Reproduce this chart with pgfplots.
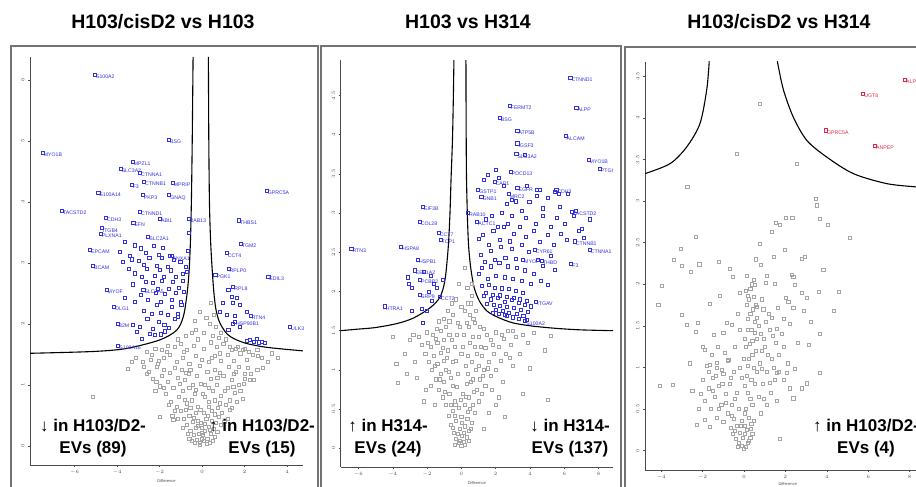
\documentclass[border=0pt]{standalone}
\usepackage{fontspec}
\setmainfont{Liberation Sans}
\usepackage{pgfplots}
\pgfplotsset{compat=1.18}
\definecolor{bluep}{RGB}{50,50,225}
\definecolor{redp}{RGB}{225,40,75}
\definecolor{grayp}{RGB}{165,165,165}
\definecolor{framec}{RGB}{115,115,115}
\pgfplotsset{
  panel/.style={
    scale only axis, anchor=south west,
    axis lines*=left,
    axis line style={gray!60!black, line width=0.5pt},
    tick style={gray!60!black, line width=0.4pt},
    tick align=outside, major tick length=2pt,
    ticklabel style={font=\fontsize{3.5}{4}\selectfont, text=gray!60!black},
    yticklabel style={rotate=90},
    xlabel={Difference},
    xlabel style={font=\fontsize{4}{4}\selectfont, text=gray!60!black, at={(axis description cs:0.5,0)}, anchor=north, yshift=-11pt},
    /pgf/number format/fixed,
  },
  grayp/.style={only marks, mark=square, mark size=1.55pt, draw=grayp, mark options={draw=grayp, line width=0.55pt, fill=none}},
  bluep/.style={only marks, mark=square, mark size=1.55pt, color=bluep, mark options={line width=0.7pt, fill=none}},
  bluel/.style={only marks, mark=square, mark size=1.55pt, color=bluep, mark options={line width=0.7pt, fill=none},
     nodes near coords, point meta=explicit symbolic,
     nodes near coords style={font=\fontsize{5.2}{5.2}\selectfont, text=bluep, anchor=north west, inner sep=0.3pt, xshift=0.5pt, yshift=0.5pt}},
  redl/.style={only marks, mark=square, mark size=1.55pt, color=redp, mark options={line width=0.7pt, fill=none},
     nodes near coords, point meta=explicit symbolic,
     nodes near coords style={font=\fontsize{5.2}{5.2}\selectfont, text=redp, anchor=north west, inner sep=0.3pt, xshift=0.5pt, yshift=0.5pt}},
  thr/.style={black, line width=1.1pt, smooth, no marks},
}
\begin{document}
\begin{tikzpicture}
\path[use as bounding box] (0pt,0pt) rectangle (916pt,487pt);
\clip (0pt,0pt) rectangle (916pt,487pt);
% frames
\draw[framec, line width=1.1pt] (11pt,-5pt) -- (11pt,441pt) -- (318pt,441pt) -- (318pt,-5pt);
\draw[framec, line width=1.1pt] (321pt,-5pt) -- (321pt,441pt) -- (621pt,441pt) -- (621pt,-5pt);
\draw[framec, line width=1.1pt] (625pt,-5pt) -- (625pt,440pt) -- (930pt,440pt);
% titles
\node[font=\fontsize{19.5}{22}\selectfont\bfseries] at (163pt,465pt) {H103/cisD2 vs H103};
\node[font=\fontsize{19.5}{22}\selectfont\bfseries] at (468pt,465pt) {H103 vs H314};
\node[font=\fontsize{19.5}{22}\selectfont\bfseries] at (779pt,465pt) {H103/cisD2 vs H314};

% ---------------- Panel 1 ----------------
\begin{axis}[panel, at={(30pt,22pt)}, width=273pt, height=408pt,
  xmin=-8.094, xmax=4.753, ymin=-0.311, ymax=6.377,
  xtick={-6,-4,-2,0,2,4}, ytick={0,1,2,3,4,5,6}]
\addplot[grayp] coordinates {
(-0.1,0.05) (0.1,0.08) (0.0,0.12) (-0.25,0.1) (0.25,0.12) (-0.4,0.18) (0.4,0.2) (-0.15,0.2) (0.15,0.25) (-0.55,0.25)
(0.55,0.28) (-0.3,0.3) (0.3,0.32) (0.0,0.3) (-0.7,0.35) (0.65,0.38) (-0.45,0.4) (0.45,0.42) (-0.2,0.42) (0.2,0.45)
(-0.85,0.45) (0.8,0.48) (-0.6,0.5) (0.05,0.18) (-0.05,0.38) (0.35,0.06) (-0.35,0.06) (0.6,0.15) (-0.6,0.12) (0.1,0.55)
(-0.3,0.55) (0.45,0.58) (-0.75,0.6) (0.75,0.62) (-1.0,0.58) (0.95,0.55)
(-1.2,0.65) (-1.45,0.72) (-1.1,0.8) (-1.7,0.85) (-0.9,0.9) (-1.35,0.95) (-2.0,0.98) (-1.6,1.05) (-0.8,1.08) (-1.15,1.12)
(-1.9,1.15) (-2.3,1.1) (-0.5,0.75) (-0.6,0.95) (-0.35,0.85) (-1.5,1.2) (-2.5,1.22) (-0.95,1.25)
(1.1,0.68) (1.3,0.75) (0.9,0.82) (1.55,0.88) (1.2,0.95) (0.7,1.0) (1.75,1.0) (1.4,1.08) (2.0,1.1) (1.0,1.15)
(2.3,1.18) (1.6,1.22) (0.5,0.9) (0.4,1.1) (0.85,1.2) (2.6,1.25) (0.3,0.72) (1.9,0.78)
(-3.1,1.45) (-2.8,1.38) (-2.4,1.42) (-2.1,1.35) (-1.8,1.45) (-1.5,1.5) (-1.2,1.38) (-0.9,1.45) (-0.6,1.35) (-0.3,1.48)
(0.0,1.42) (0.3,1.38) (0.6,1.48) (0.9,1.4) (1.2,1.5) (1.5,1.4) (1.8,1.52) (2.1,1.42) (2.4,1.5) (2.8,1.45) (3.1,1.38) (3.3,1.52)
(-2.6,1.55) (-2.2,1.6) (-1.9,1.58) (-1.6,1.65) (-1.3,1.62) (-1.0,1.68) (-0.7,1.58) (-0.4,1.65) (-0.2,1.75) (0.1,1.6)
(0.4,1.7) (0.7,1.62) (1.0,1.68) (1.3,1.62) (1.6,1.6) (1.9,1.58) (2.2,1.55) (2.6,1.58)
(-0.3,1.9) (0.1,1.85) (0.35,2.0) (0.5,1.8) (0.65,1.95) (0.8,1.78) (-0.5,1.85) (0.2,2.1) (-0.1,2.2) (0.55,2.15)
(0.4,2.35) (-0.35,2.05) (0.9,1.85) (1.1,1.75)
(-5.14,0.81) (-3.51,1.27) (2.26,1.08) (2.02,1.19) (1.47,0.97) (-1.98,0.48) (-1.35,0.43) (1.32,0.59) (-2.13,1.30) (-2.6,1.19)
(-0.7,0.7) (-0.2,0.65) (0.15,0.8) (0.6,0.75) (-0.45,1.0) (0.15,1.0) (-0.25,1.15) (0.6,1.25) (-1.4,0.5) (1.2,0.45)
(-0.75,1.2) (1.25,1.3) (-1.8,1.25) (2.15,1.28) (-2.2,0.9) (1.8,0.9)
(-0.12,0.02) (0.22,0.03) (-0.48,0.08) (0.52,0.09) (-0.03,0.22) (0.38,0.27) (-0.68,0.2) (0.72,0.24) (-0.22,0.33) (0.12,0.36)
(-0.92,0.3) (0.9,0.35) (-0.38,0.47) (0.28,0.5) (-1.12,0.44) (1.05,0.4) (-0.55,0.62) (0.58,0.52) (-0.08,0.6) (0.33,0.64)
(-1.28,0.58) (1.4,0.62) (-0.82,0.76) (0.82,0.7) (-1.58,0.68) (1.62,0.72) (-0.28,0.92) (0.32,0.96) (-1.03,1.02) (1.08,0.9)
(-1.78,0.95) (1.95,1.02) (-2.15,1.05) (2.45,1.08) (-0.62,1.18) (0.72,1.12) (-1.28,1.28) (1.48,1.18) (-2.02,1.4) (1.72,1.3)
(-2.72,1.3) (2.88,1.28) (-0.12,1.32) (0.45,1.45) (-0.85,1.55) (0.85,1.52) (-1.65,1.55) (1.42,1.58) (-2.38,1.5) (2.62,1.48)
(-3.3,1.38) (3.55,1.45) (-0.55,1.25) (0.02,0.85) (-0.05,1.02) (0.25,1.22) (1.7,1.62) (2.0,1.6) (-1.12,1.75) (-0.75,1.8)
};
\addplot[thr] coordinates {(-8.1,1.52) (-5.1,1.55) (-3.54,1.60) (-1.98,1.74) (-1.19,1.90) (-0.88,2.12) (-0.72,2.45) (-0.62,2.8) (-0.55,3.3) (-0.50,4.0) (-0.46,5.0) (-0.42,6.38)};
\addplot[thr] coordinates {(0.30,6.38) (0.32,5.0) (0.35,4.0) (0.40,3.4) (0.46,3.0) (0.55,2.55) (0.65,2.25) (0.8,2.05) (1.0,1.92) (1.2,1.83) (1.5,1.76) (2.0,1.69) (2.5,1.65) (3.0,1.62) (3.8,1.59) (4.75,1.56)};
\addplot[bluep] coordinates {
(-3.62,3.34) (-3.88,3.19) (-3.41,3.12) (-3.17,3.29) (-2.86,3.24) (-2.63,3.17) (-2.27,3.28) (-2.02,3.14) (-1.83,3.25) (-1.52,3.12)
(-3.74,3.02) (-3.31,3.06) (-2.97,3.04) (-2.72,2.97) (-2.48,3.08) (-2.12,2.96) (-1.87,3.08) (-1.62,2.94) (-1.33,3.05) (-1.02,3.02)
(-3.46,2.91) (-3.14,2.83) (-2.81,2.77) (-2.58,2.91) (-2.21,2.79) (-1.97,2.89) (-1.78,2.77) (-1.47,2.88) (-1.23,2.77) (-0.92,2.82) (-0.77,2.93)
(-3.27,2.65) (-2.63,2.69) (-2.32,2.67) (-2.07,2.58) (-1.88,2.71) (-1.57,2.57) (-1.38,2.69) (-1.07,2.59) (-0.91,2.71) (-0.72,2.86)
(-3.63,2.43) (-3.17,2.37) (-2.87,2.48) (-2.53,2.39) (-2.18,2.51) (-1.92,2.37) (-1.73,2.49) (-1.42,2.39) (-1.24,2.51) (-0.98,2.37) (-0.84,2.53)
(-2.73,2.22) (-2.37,2.17) (-2.12,2.31) (-1.93,2.19) (-1.62,2.15) (-1.43,2.28) (-1.12,2.17) (-0.97,2.31)
(-3.27,1.99) (-2.93,1.95) (-2.57,2.08) (-2.33,1.92) (-2.02,2.03) (-1.77,1.99) (-1.58,1.93) (-1.27,2.08) (-1.13,2.12)
(-2.47,1.84) (-2.23,1.82) (-1.92,1.83) (-1.73,1.88) (-2.83,1.76) (-3.07,1.87) (-0.62,3.5) (-0.66,3.2)
(1.24,2.56) (1.40,2.45) (1.63,2.43) (1.0,2.34) (1.47,2.34) (1.78,2.31) (2.10,2.20) (0.85,2.20) (1.16,2.15) (1.55,2.13)
(1.47,2.01) (1.78,1.95) (1.24,1.90) (2.26,1.74) (2.42,1.71) (2.66,1.70) (2.82,1.71) (2.97,1.69) (2.1,1.72) (2.58,1.76)
};
\addplot[bluel] table[meta=label] {
x y label
-5.04 6.09 S100A2
-1.55 5.02 BSG
-7.50 4.80 MYO1B
-3.26 4.66 MPZL1
-3.83 4.54 SLC3A2
-2.92 4.48 CTNNA1
-3.31 4.28 F3
-2.73 4.33 CTNNB1
-1.38 4.32 MPRIP
-1.54 4.11 GNAQ
-4.88 4.15 S100A14
-2.79 4.11 PKP3
3.04 4.19 GPRC5A
-6.59 3.85 TACSTD2
-2.92 3.84 CTNND1
-1.98 3.73 ABI1
-0.64 3.72 RAB13
1.74 3.70 THBS1
-4.52 3.74 CDH3
-3.23 3.66 EFN
-4.72 3.57 ITGB4
-4.77 3.48 PLXNA1
-2.53 3.43 SLC2A1
-1.43 3.11 ANXA1
1.82 3.31 TGM2
-5.27 3.21 EPCAM
1.16 3.16 CCT4
-5.13 2.95 BCAM
1.25 2.91 RPLP0
0.63 2.80 PGK1
3.12 2.77 EDIL3
1.47 2.61 RPL8
-4.49 2.56 MYOF
-2.76 2.56 SLC7A5
-4.13 2.28 DLG1
-3.98 2.01 B2M
2.29 2.13 RTN4
1.55 2.04 HSP90B1
4.14 1.96 ULK3
-3.94 1.64 S100A16
};
\end{axis}

% ---------------- Panel 2 ----------------
\begin{axis}[panel, at={(340.7pt,20pt)}, width=272.3pt, height=407pt,
  xmin=-7.032, xmax=8.845, ymin=-0.239, ymax=4.953,
  xtick={-6,-4,-2,0,2,4,6,8}, ytick={0,0.5,1,1.5,2,2.5,3,3.5,4,4.5}]
\addplot[grayp] coordinates {
(0,0.03) (-0.15,0.07) (0.15,0.08) (-0.3,0.12) (0.3,0.14) (0.05,0.16) (-0.45,0.2) (0.45,0.22) (-0.1,0.25) (0.2,0.28)
(-0.6,0.3) (0.6,0.32) (-0.3,0.35) (0.35,0.38) (0.0,0.4) (-0.75,0.42) (0.8,0.45) (-0.5,0.48) (0.5,0.5) (-0.15,0.52)
(0.2,0.55) (-0.9,0.55) (1.0,0.6) (-0.4,0.6) (0.45,0.65) (0.1,0.7) (-0.7,0.7) (0.75,0.72) (-0.25,0.78) (0.3,0.82)
(-1.1,0.65) (-1.3,0.75) (-1.0,0.85) (-1.5,0.88) (-1.2,0.95) (-0.9,1.0) (-1.7,1.0) (-1.4,1.08) (-1.0,1.12) (-1.9,1.1)
(-1.6,1.18) (-1.2,1.22) (-2.1,1.2) (-0.8,1.25) (-1.8,1.3) (-1.4,1.35) (-2.3,1.32) (-1.0,1.38) (-0.6,0.9) (-0.5,1.1)
(-0.4,1.3) (-2.5,1.42) (-1.65,1.45) (-1.2,1.5) (-0.7,1.45) (-2.0,1.48)
(1.2,0.7) (1.4,0.8) (1.1,0.88) (1.7,0.92) (1.3,1.0) (2.0,1.0) (1.0,1.05) (1.6,1.1) (2.3,1.12) (1.2,1.18)
(1.9,1.2) (2.6,1.2) (1.4,1.28) (2.2,1.3) (0.8,1.3) (2.9,1.32) (1.7,1.38) (2.5,1.4) (1.0,1.42) (3.2,1.42)
(2.0,1.48) (3.6,1.45) (1.3,1.52) (2.7,1.5) (0.6,1.1) (0.5,1.35) (4.2,1.47) (0.4,0.95) (2.4,0.85) (3.0,1.05)
(0.3,1.6) (0.5,1.7) (0.7,1.65) (0.4,1.85) (0.6,1.95) (0.2,1.75) (0.8,1.6) (-0.2,1.6) (-0.5,1.7) (-0.7,1.62)
(-1.0,1.65) (-1.3,1.62) (-0.3,1.9) (0.0,1.8)
(-3.79,1.08) (-3.69,0.83) (3.98,1.02) (5.05,0.62) (4.86,1.25) (2.53,0.40) (-2.6,0.9) (-3.0,1.38) (3.6,0.7) (-2.2,0.6)
(2.0,0.55) (-4.0,1.42) (5.2,1.44) (1.3,0.25)
(-0.2,0.95) (0.25,1.05) (-0.35,0.55) (0.65,0.88) (0.9,1.2) (-0.85,1.15) (1.5,1.45) (-1.5,1.4) (0.0,1.2) (0.15,1.45)
(-0.1,1.55) (1.8,0.75) (-1.8,0.8)
(-0.08,0.1) (0.22,0.04) (-0.38,0.05) (0.42,0.1) (-0.22,0.18) (0.12,0.2) (-0.52,0.26) (0.55,0.25) (0.02,0.32) (-0.4,0.42)
(0.38,0.46) (-0.62,0.55) (0.65,0.55) (-0.05,0.62) (0.28,0.66) (-0.95,0.72) (0.92,0.75) (-0.48,0.8) (0.55,0.85) (-1.25,0.88)
(1.25,0.92) (-0.75,0.98) (0.82,1.0) (-1.55,1.05) (1.52,1.02) (-0.3,1.12) (0.38,1.18) (-1.08,1.28) (1.15,1.3) (-1.95,1.35)
(1.85,1.32) (-0.55,1.38) (0.68,1.42) (-2.8,1.45) (2.35,1.45) (-1.42,1.52) (1.1,1.55) (-0.88,1.55) (3.0,1.5) (-3.3,1.2)
(2.8,1.15) (-2.7,1.1) (3.4,1.2) (-3.2,0.95) (3.9,1.35) (-2.05,0.75) (2.2,0.65) (1.6,0.45) (-1.55,0.55) (-0.25,1.45)
(0.1,1.3) (0.45,1.55) (0.85,1.75) (0.55,1.85) (-0.55,1.85) (-0.8,1.75) (0.35,2.05) (-0.15,2.1) (0.62,2.1) (0.2,2.3)
};
\addplot[thr] coordinates {(-7.03,1.50) (-6,1.52) (-5,1.54) (-3.77,1.59) (-2.8,1.66) (-1.83,1.79) (-1.24,1.93) (-0.95,2.15) (-0.76,2.57) (-0.66,3.0) (-0.6,3.42) (-0.52,3.9) (-0.47,4.4) (-0.43,4.95)};
\addplot[thr] coordinates {(0.27,4.95) (0.28,4.2) (0.30,3.5) (0.35,3.0) (0.42,2.6) (0.55,2.3) (0.75,2.05) (1.05,1.88) (1.5,1.75) (2.14,1.67) (3,1.6) (4.1,1.56) (5.5,1.53) (7,1.51) (8.85,1.50)};
\addplot[bluep] coordinates {
(-3.1,2.18) (-3.05,2.10) (-2.9,2.05) (-2.2,2.25) (-1.8,2.2) (-1.6,2.1) (-1.4,2.05) (-1.1,2.15) (-2.0,1.75) (-1.7,1.88)
(-2.9,1.75) (-2.3,1.78) (-1.9,2.0) (-2.23,1.6)
(1.22,2.07) (1.43,1.98) (1.58,2.08) (1.83,1.96) (1.97,2.05) (2.24,1.95) (2.37,2.04) (2.63,1.93) (2.78,2.03) (3.04,1.92) (3.17,2.01) (3.43,1.9) (3.57,1.98) (3.83,1.88)
(1.33,1.94) (1.48,1.84) (1.72,1.9) (1.88,1.83) (2.13,1.92) (2.27,1.82) (2.53,1.87) (2.68,1.8) (2.93,1.89) (3.07,1.79) (3.33,1.86) (3.47,1.77) (3.73,1.83) (3.88,1.74) (4.07,1.81)
(1.82,1.73) (2.03,1.77) (2.18,1.71) (2.42,1.75) (2.63,1.69) (2.77,1.73) (3.02,1.67) (3.23,1.71) (3.38,1.65) (3.62,1.69) (3.82,1.64) (2.52,1.7)
(1.03,2.22) (1.22,2.3) (1.53,2.16) (1.72,2.32) (2.03,2.2) (2.22,2.37) (2.53,2.18) (2.72,2.32) (3.03,2.16) (3.22,2.3) (3.53,2.13) (3.72,2.27) (4.03,2.1) (4.22,2.22) (4.63,2.13) (5.03,2.08)
(1.13,2.47) (1.37,2.38) (1.73,2.52) (1.97,2.4) (2.33,2.57) (2.57,2.43) (2.93,2.54) (3.17,2.42) (3.93,2.5) (4.47,2.4) (5.23,2.46) (4.77,2.33) (5.47,2.28)
(1.03,2.67) (1.27,2.72) (1.63,2.6) (1.87,2.77) (2.23,2.66) (2.47,2.82) (2.83,2.64) (3.07,2.74) (3.53,2.6) (3.77,2.7) (4.23,2.77) (4.57,2.63) (5.03,2.72) (5.37,2.6) (5.83,2.74) (6.17,2.66) (6.83,2.77) (7.17,2.68)
(1.43,2.92) (1.77,2.97) (2.13,2.83) (2.37,3.0) (2.73,2.86) (2.97,2.97) (3.43,2.83) (3.77,2.94) (4.33,2.86) (4.77,2.97) (5.23,2.83) (5.57,2.94) (6.03,2.86) (6.57,2.97) (7.03,2.8) (7.47,2.92)
(2.63,3.12) (2.97,3.17) (3.53,3.03) (3.97,3.14) (4.43,3.22) (4.77,3.06) (5.03,3.2) (5.77,3.08) (6.23,3.24) (6.67,3.03) (5.43,3.27) (4.57,3.3)
(1.3,3.42) (2.2,3.45) (2.5,3.35) (2.0,3.55) (3.8,3.35) (4.4,3.3) (5.7,3.25) (1.55,3.49) (3.69,3.74) (3.2,3.15)
};
\addplot[bluel] table[meta=label] {
x y label
6.36 4.73 CTNND1
2.82 4.37 FERMT2
6.71 4.34 ALPP
2.24 4.22 BSG
3.27 4.05 ATP5B
6.08 3.98 ALCAM
3.27 3.89 IGSF3
3.21 3.75 SLC3A2
7.42 3.68 MYO1B
8.07 3.57 PTGI
2.88 3.53 PDCD13
1.94 3.40 CAP1
3.27 3.32 EGFR
0.99 3.30 GSTP1
1.17 3.21 GNB1
2.76 3.24 MRC2
5.54 3.30 CDH3
6.45 3.02 TACSTD2
0.39 3.00 RAB10
0.93 2.89 ACTC1
6.61 2.64 CTNNB1
7.48 2.53 CTNNA1
6.41 2.35 F3
4.28 2.53 CYR61
3.60 2.40 MYOF
4.69 2.39 THBD
4.37 1.87 ITGAV
3.73 1.62 S100A2
-2.24 3.08 EIF3B
-2.43 2.89 COL28
-1.32 2.75 CCT7
-1.21 2.66 TCP1
-6.41 2.54 RTN3
-3.50 2.57 HSPA8
-2.53 2.40 HSPB1
-2.72 2.27 EEF1A2
-2.41 2.15 PCBP2
-2.41 1.96 SRP9
-1.24 1.93 CCT2
-4.47 1.81 HTRA1
};
\end{axis}

% ---------------- Panel 3 ----------------
\begin{axis}[panel, at={(645pt,17pt)}, width=285.3pt, height=408.3pt,
  xmin=-4.783, xmax=9.0, ymin=-0.232, ymax=4.675,
  xtick={-4,-2,0,2,4,6,8}, ytick={0,0.5,1,1.5,2,2.5,3,3.5,4,4.5},
  xlabel style={yshift=2pt}]
\addplot[grayp] coordinates {
(0,0.02) (-0.1,0.06) (0.1,0.05) (-0.25,0.1) (0.2,0.1) (-0.4,0.14) (0.3,0.15) (-0.05,0.15) (-0.55,0.2) (0.4,0.2)
(-0.2,0.22) (0.15,0.25) (-0.65,0.28) (-0.35,0.3) (0.05,0.3) (0.35,0.32) (-0.1,0.36) (-0.5,0.38) (0.25,0.4)
(-1.0,0.35) (-1.3,0.4) (-0.8,0.45) (-1.6,0.5) (-1.1,0.55) (-0.6,0.55) (-1.9,0.6) (-1.4,0.65) (-0.9,0.68) (-1.7,0.75)
(-1.2,0.78) (-0.7,0.8) (-2.0,0.85) (-1.5,0.88) (-1.0,0.92) (-0.5,0.95) (-1.3,1.0) (-1.8,1.02) (-0.8,1.08) (-2.2,0.5)
(-2.5,0.72) (-1.55,1.15) (-0.35,0.7) (-0.2,1.0)
(0.1,0.5) (0.4,0.55) (0.2,0.7) (0.5,0.8) (0.15,0.9) (0.45,1.0) (0.25,1.1) (0.55,1.2) (0.1,1.25) (0.4,1.32)
(0.2,1.45) (0.5,1.55) (0.3,1.65) (0.15,1.75) (0.45,1.85) (0.3,1.95) (0.6,1.6) (0.35,1.45) (0.0,1.1) (0.6,1.35)
(0.8,0.45) (1.1,0.55) (0.7,0.65) (1.3,0.7) (0.9,0.8) (1.5,0.85) (1.1,0.95) (0.75,1.05) (1.35,1.1) (1.7,1.15)
(1.0,1.25) (1.55,1.3) (0.8,1.4) (1.25,1.45) (1.9,1.25) (2.1,1.05) (1.6,0.6) (2.2,0.75) (1.05,1.55) (0.85,1.2)
(0.77,4.17) (-0.35,3.57) (2.54,3.45) (-2.74,3.17) (3.48,3.03) (3.51,2.95) (2.01,2.80) (2.33,2.80) (3.64,2.79) (1.53,2.74)
(1.74,2.71) (4.03,2.71) (1.34,2.63) (-2.32,2.57) (0.74,2.49) (5.12,2.56) (-3.06,2.43) (1.98,2.41) (-3.41,2.29) (-3.01,2.22)
(-2.16,2.24) (-1.24,2.27) (-2.58,2.15) (1.42,2.33) (2.79,2.31) (2.95,2.33) (3.83,2.17) (0.81,2.23) (-0.68,2.19) (-0.55,2.09)
(-3.98,1.98) (-1.16,1.86) (0.16,1.86) (0.45,2.05) (0.53,1.99) (1.10,2.10) (1.50,2.01) (1.06,2.02) (2.30,2.11) (2.38,2.09)
(2.46,1.99) (3.59,1.91) (4.56,1.91) (2.79,1.90) (3.03,1.84) (2.03,1.84) (2.14,1.79) (2.38,1.72) (2.87,1.68) (4.32,1.68)
(3.67,1.41) (-4.14,1.75) (-3.01,1.63) (-2.77,1.51) (-2.25,1.54) (-1.64,1.77) (-0.60,1.51) (-0.19,1.45) (-2.32,1.43) (-1.45,1.39)
(-0.84,1.54) (3.22,1.55) (2.22,1.53) (1.82,1.41) (1.58,1.47) (1.34,1.60) (0.93,1.70) (0.61,1.73) (3.11,1.27) (3.67,0.94)
(1.58,0.94) (2.06,0.94) (1.90,0.85) (2.79,0.75) (3.03,0.81) (2.38,0.63) (-4.06,0.78) (-3.45,0.79) (-1.88,1.21) (-1.32,1.06)
(-1.64,1.03) (-0.76,1.09) (-1.08,0.97) (-2.29,0.31) (1.74,0.14) (-1.64,0.29) (-1.88,0.37)
(0.22,0.12) (-0.3,0.05) (0.05,0.2) (-0.45,0.24) (0.32,0.26) (-0.15,0.3) (0.45,0.36) (-0.6,0.42) (0.05,0.45) (-0.25,0.5)
(0.3,0.62) (-0.45,0.62) (0.05,0.78) (0.35,0.85) (-0.1,0.88) (0.6,0.95) (0.2,1.02) (0.4,1.15) (0.05,1.35) (0.28,1.28)
(0.5,1.42) (0.18,1.58) (0.42,1.7) (0.25,1.82) (0.55,1.75) (0.1,1.92) (0.38,2.0) (-1.2,0.5) (-0.9,0.58) (-1.5,0.72)
(-1.05,0.8) (-0.65,0.88) (-1.35,0.9) (-1.7,0.95) (-2.1,0.68) (-0.95,1.18) (-1.25,1.25) (-0.45,1.25) (0.95,0.62) (1.25,0.82)
(0.85,0.98) (1.45,1.0) (1.15,1.15) (1.7,0.95) (0.95,1.35) (1.4,1.38) (0.7,1.5) (1.2,1.65) (0.85,1.82) (1.65,1.72)
(-2.0,1.25) (-2.6,1.05) (-0.3,1.65) (2.6,1.3) (2.45,0.98) (-1.0,1.42) (0.15,2.1) (0.55,2.3) (-0.2,1.9) (1.9,1.58)
};
\addplot[thr] coordinates {(-4.78,3.33) (-3.57,3.45) (-2.77,3.65) (-2.13,3.93) (-1.80,4.34) (-1.68,4.68)};
\addplot[thr] coordinates {(1.61,4.68) (1.90,4.34) (2.38,4.01) (3.03,3.73) (3.99,3.53) (5.28,3.33) (6.89,3.21) (8.3,3.17) (9,3.15)};
\addplot[redl] table[meta=label] {
x y label
7.78 4.46 ALPP
5.76 4.29 UGT8
3.96 3.85 GPRC5A
6.33 3.66 ANPEP
};
\end{axis}

% annotations
\node[font=\fontsize{17}{21.5}\selectfont\bfseries, align=center] at (93pt,49pt) {\textmd{↓} in H103/D2-\\EVs (89)};
\node[font=\fontsize{17}{21.5}\selectfont\bfseries, align=center] at (262pt,49pt) {\textmd{↑} in H103/D2-\\EVs (15)};
\node[font=\fontsize{17}{21.5}\selectfont\bfseries, align=center] at (388pt,49pt) {\textmd{↑} in H314-\\EVs (24)};
\node[font=\fontsize{17}{21.5}\selectfont\bfseries, align=center] at (570pt,49pt) {\textmd{↓} in H314-\\EVs (137)};
\node[font=\fontsize{17}{21.5}\selectfont\bfseries, align=center] at (866pt,49pt) {\textmd{↑} in H103/D2-\\EVs (4)};
\end{tikzpicture}
\end{document}
